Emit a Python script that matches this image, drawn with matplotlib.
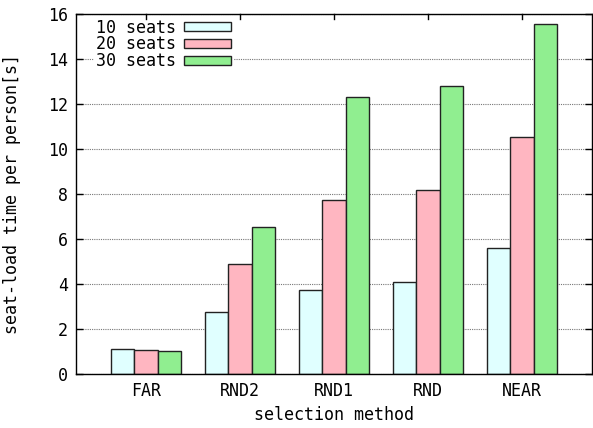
import matplotlib.pyplot as plt
import numpy as np

methods = ['FAR', 'RND2', 'RND1', 'RND', 'NEAR']
seats10 = [1.10, 2.74, 3.73, 4.07, 5.60]
seats20 = [1.05, 4.87, 7.73, 8.18, 10.53]
seats30 = [1.03, 6.53, 12.30, 12.80, 15.55]
series_labels = ['10 seats', '20 seats', '30 seats']
colors = ['#e0ffff', '#ffb6c1', '#90ee90']

plt.rcParams['font.family'] = ['DejaVu Sans Mono']
plt.rcParams['font.size'] = 12

fig = plt.figure(figsize=(5.93, 4.28), dpi=100)
ax = fig.add_axes([76 / 593, 54 / 428, 516 / 593, 360 / 428])

x = np.arange(len(methods))
w = 0.25
for i, vals in enumerate([seats10, seats20, seats30]):
    ax.bar(x + (i - 1) * w, vals, w, color=colors[i], edgecolor='#222222',
           linewidth=1.0, label=series_labels[i], zorder=3)

ax.set_xlim(-0.745, 4.745)
ax.set_ylim(0, 16)
ax.set_yticks(range(0, 17, 2))
ax.set_xticks(x)
ax.set_xticklabels(methods)
ax.yaxis.grid(True, linestyle=(0, (1, 1)), color='#777777', linewidth=0.8, zorder=0)
ax.tick_params(direction='in', length=5, top=True, right=True, width=1)
ax.tick_params(axis='y', pad=6)
ax.tick_params(axis='x', length=0, pad=6)
ax.set_xlabel('selection method', labelpad=4)
ax.set_ylabel('seat-load time per person[s]', labelpad=19)
for s in ax.spines.values():
    s.set_linewidth(1.0)
    s.set_zorder(7)

# top mirror ticks at categories
for xi in x:
    ax.plot([xi, xi], [16, 16 - 0.2], color='black', lw=1, clip_on=False, zorder=7)

leg = ax.legend(loc='upper left', markerfirst=False, frameon=True,
                handlelength=2.8, handleheight=0.45, labelspacing=-0.08,
                borderpad=0.15, handletextpad=0.5, bbox_to_anchor=(0.018, 1.017))
leg.get_frame().set_edgecolor('none')
leg.get_frame().set_facecolor('white')
leg.get_frame().set_alpha(1)
leg.set_zorder(5)

fig.savefig('out.png', dpi=100)
